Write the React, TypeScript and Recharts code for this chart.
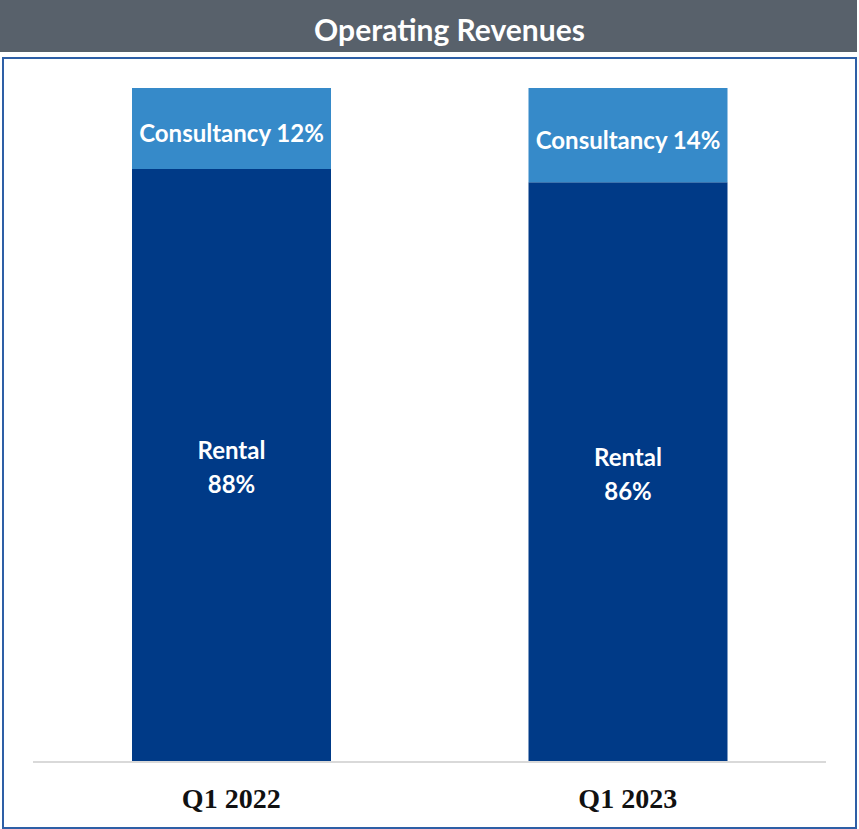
import * as React from "react"
import { BarChart, Bar, XAxis, YAxis, LabelList } from "recharts"

const quarters = ["Q1 2022", "Q1 2023"]
const rentalShare = [88, 86]
const consultancyShare = [12, 14]

const data = quarters.map((q, i) => ({
  quarter: q,
  rental: rentalShare[i],
  consultancy: consultancyShare[i],
}))

const labelFont = "Lato, 'Open Sans', sans-serif"

function RentalLabel(props: any) {
  const { x, y, width, height, value } = props
  const cx = x + width / 2
  const cy = y + height / 2
  return (
    <text
      x={cx}
      y={cy}
      textAnchor="middle"
      fill="#fff"
      fontFamily={labelFont}
      fontWeight={700}
      fontSize={24}
    >
      <tspan x={cx} dy={-6}>Rental</tspan>
      <tspan x={cx} dy={34}>{value}%</tspan>
    </text>
  )
}

function ConsultancyLabel(props: any) {
  const { x, y, width, height, value } = props
  return (
    <text
      x={x + width / 2}
      y={y + height / 2 + 14}
      textAnchor="middle"
      fill="#fff"
      fontFamily={labelFont}
      fontWeight={700}
      fontSize={24}
    >
      Consultancy {value}%
    </text>
  )
}

function QuarterTick(props: any) {
  const { x, y, payload } = props
  return (
    <text
      x={x}
      y={y + 44}
      textAnchor="middle"
      fill="#111"
      fontFamily="'Liberation Serif', serif"
      fontWeight={700}
      fontSize={28}
    >
      {payload.value}
    </text>
  )
}

export default function App() {
  return (
    <div style={{ position: "absolute", left: 0, top: 0, width: 859, height: 829, background: "#fff" }}>
      <div
        style={{
          position: "absolute",
          left: 0,
          top: 0,
          width: 857,
          height: 52,
          background: "#58616b",
          color: "#fff",
          fontFamily: labelFont,
          fontWeight: 700,
          fontSize: 30,
          lineHeight: "58px",
          textAlign: "center",
          paddingLeft: 42,
          boxSizing: "border-box",
        }}
      >
        Operating Revenues
      </div>
      <div
        style={{
          position: "absolute",
          left: 2,
          top: 57,
          width: 851,
          height: 768,
          border: "2px solid #2e5fa6",
        }}
      />
      <div style={{ position: "absolute", left: 0, top: 0 }}>
        <BarChart
          width={859}
          height={829}
          data={data}
          barCategoryGap={99}
          margin={{ top: 88, right: 33, bottom: 17, left: 33 }}
        >
          <YAxis hide domain={[0, 100]} />
          <XAxis
            dataKey="quarter"
            height={50}
            axisLine={{ stroke: "#d9d9d9", strokeWidth: 2 }}
            tickLine={false}
            tickSize={0}
            tick={<QuarterTick />}
          />
          <Bar dataKey="rental" stackId="a" fill="#003a87" isAnimationActive={false}>
            <LabelList dataKey="rental" content={<RentalLabel />} />
          </Bar>
          <Bar dataKey="consultancy" stackId="a" fill="#368ac9" isAnimationActive={false}>
            <LabelList dataKey="consultancy" content={<ConsultancyLabel />} />
          </Bar>
        </BarChart>
      </div>
    </div>
  )
}
